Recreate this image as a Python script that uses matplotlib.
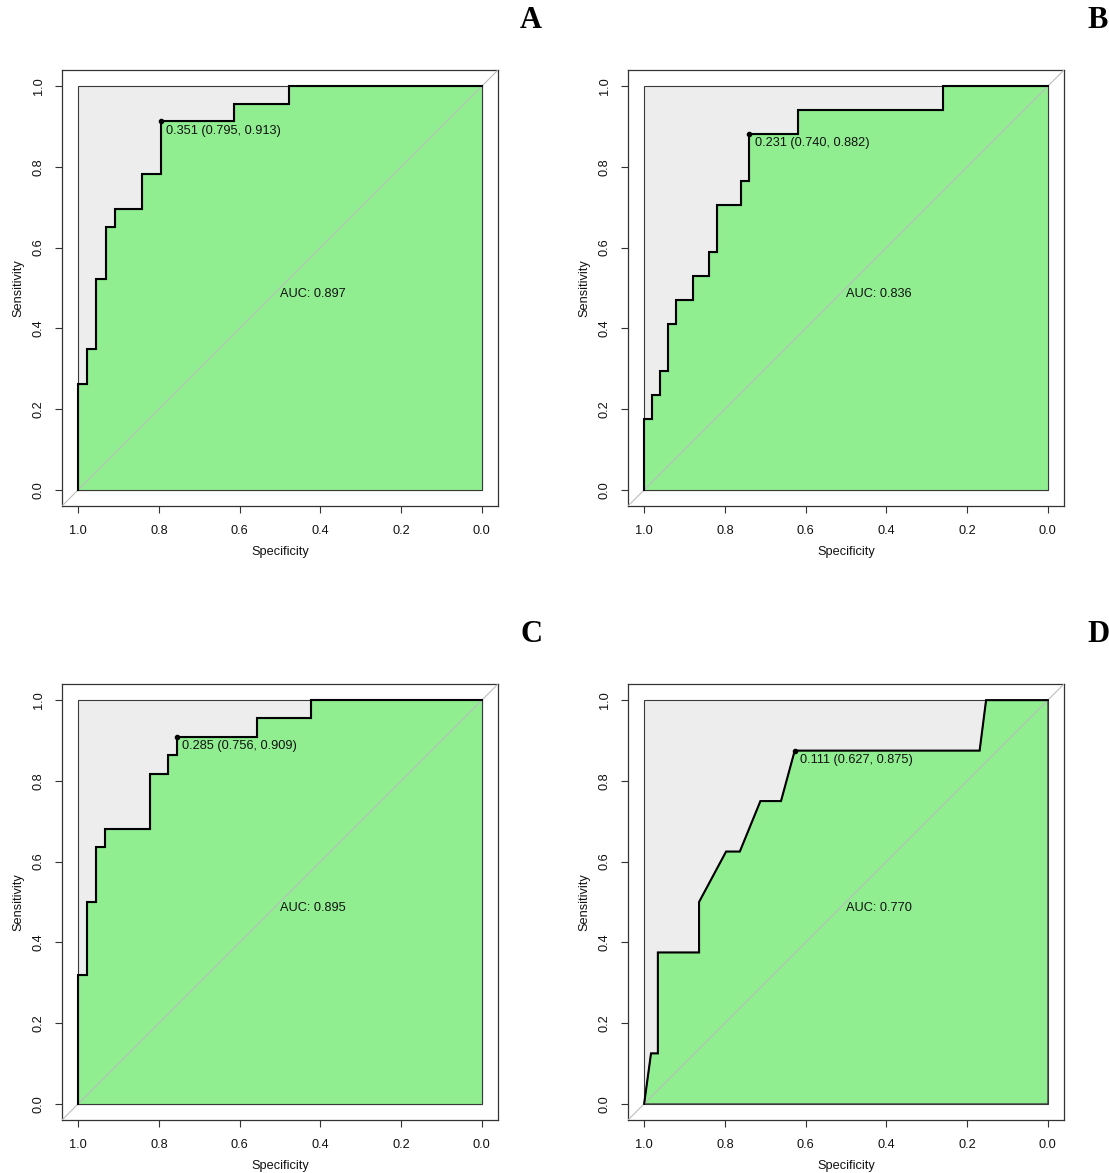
import matplotlib
matplotlib.use("Agg")
import matplotlib.pyplot as plt
from matplotlib.patches import Polygon

plt.rcParams['font.family'] = ['Liberation Sans', 'DejaVu Sans']

# ---------------- data ----------------
panel_letters = ["A", "B", "C", "D"]

spec_A = [1.0, 1.0, 0.977, 0.977, 0.955, 0.955, 0.932, 0.932, 0.909, 0.909, 0.841, 0.841,
          0.795, 0.795, 0.614, 0.614, 0.477, 0.477, 0.0]
sens_A = [0.0, 0.261, 0.261, 0.348, 0.348, 0.522, 0.522, 0.652, 0.652, 0.696, 0.696, 0.783,
          0.783, 0.913, 0.913, 0.957, 0.957, 1.0, 1.0]

spec_B = [1.0, 1.0, 0.98, 0.98, 0.96, 0.96, 0.94, 0.94, 0.92, 0.92, 0.88, 0.88, 0.84, 0.84,
          0.82, 0.82, 0.76, 0.76, 0.74, 0.74, 0.62, 0.62, 0.26, 0.26, 0.0]
sens_B = [0.0, 0.176, 0.176, 0.235, 0.235, 0.294, 0.294, 0.412, 0.412, 0.471, 0.471, 0.529,
          0.529, 0.588, 0.588, 0.706, 0.706, 0.765, 0.765, 0.882, 0.882, 0.941, 0.941, 1.0, 1.0]

spec_C = [1.0, 1.0, 0.978, 0.978, 0.956, 0.956, 0.933, 0.933, 0.822, 0.822, 0.778, 0.778,
          0.756, 0.756, 0.556, 0.556, 0.422, 0.422, 0.0]
sens_C = [0.0, 0.318, 0.318, 0.5, 0.5, 0.636, 0.636, 0.682, 0.682, 0.818, 0.818, 0.864,
          0.864, 0.909, 0.909, 0.955, 0.955, 1.0, 1.0]

spec_D = [1.0, 0.983, 0.966, 0.966, 0.864, 0.864, 0.797, 0.763, 0.712, 0.661, 0.627, 0.169, 0.153, 0.0]
sens_D = [0.0, 0.125, 0.125, 0.375, 0.375, 0.5, 0.625, 0.625, 0.75, 0.75, 0.875, 0.875, 1.0, 1.0]

thres_value = [0.351, 0.231, 0.285, 0.111]
thres_spec = [0.795, 0.740, 0.756, 0.627]
thres_sens = [0.913, 0.882, 0.909, 0.875]
auc_values = [0.897, 0.836, 0.895, 0.770]

tick_vals = [0.0, 0.2, 0.4, 0.6, 0.8, 1.0]
tick_labels = ["0.0", "0.2", "0.4", "0.6", "0.8", "1.0"]

specs = [spec_A, spec_B, spec_C, spec_D]
senss = [sens_A, sens_B, sens_C, sens_D]

# ---------------- layout ----------------
W, H = 1109, 1173
fig = plt.figure(figsize=(W / 100, H / 100), dpi=100)

FS = 9.2

# frames in pixels: (left, top, right, bottom)
frames = [(62, 70, 498, 506), (628, 70, 1064, 506),
          (62, 684, 498, 1120), (628, 684, 1064, 1120)]
letter_pos = [(531, 20), (1098, 20), (531, 635), (1098, 635)]

for i in range(4):
    l, t, r, b = frames[i]
    ax = fig.add_axes([l / W, 1 - b / H, (r - l) / W, (b - t) / H])
    ax.set_xlim(1.04, -0.04)
    ax.set_ylim(-0.04, 1.04)

    # grey max-AUC square
    ax.add_patch(Polygon([(1, 0), (1, 1), (0, 1), (0, 0)], closed=True,
                         facecolor='#EDEDED', edgecolor='#3a3a3a', linewidth=0.8, zorder=1))
    # green AUC polygon
    verts = list(zip(specs[i], senss[i])) + [(0.0, 0.0)]
    ax.add_patch(Polygon(verts, closed=True, facecolor='#90EE90',
                         edgecolor='#3a3a3a', linewidth=0.8, zorder=2))
    # identity line
    ax.plot([1.04, -0.04], [-0.04, 1.04], color='#BDBDBD', linewidth=0.8, zorder=3)
    # ROC curve
    ax.plot(specs[i], senss[i], color='black', linewidth=1.5, zorder=4,
            solid_joinstyle='miter')
    # threshold point and label
    ax.plot([thres_spec[i]], [thres_sens[i]], 'o', color='black', markersize=3, zorder=5)
    ax.annotate(f"{thres_value[i]:.3f} ({thres_spec[i]:.3f}, {thres_sens[i]:.3f})",
                xy=(thres_spec[i], thres_sens[i]), xytext=(4, -2.5),
                textcoords='offset points', ha='left', va='top', fontsize=FS,
                color='#111111', zorder=6)
    # AUC text
    ax.text(0.5, 0.5, f"AUC: {auc_values[i]:.3f}", ha='left', va='top',
            fontsize=FS, color='#111111', zorder=6)

    ax.set_xticks(tick_vals)
    ax.set_xticklabels(tick_labels)
    ax.set_yticks(tick_vals)
    ax.set_yticklabels(tick_labels, rotation=90, va='center')
    ax.tick_params(axis='both', direction='out', length=5, width=0.8,
                   color='#333333', labelsize=FS, labelcolor='#111111')
    ax.tick_params(axis='x', pad=8.5)
    ax.tick_params(axis='y', pad=7.5)
    for s in ax.spines.values():
        s.set_color('#333333')
        s.set_linewidth(0.9)

    ax.text(0.5, -0.1055, "Specificity", transform=ax.transAxes,
            ha='center', va='center', fontsize=FS, color='#111111')
    ax.text(-0.099, 0.5, "Sensitivity", transform=ax.transAxes, rotation=90,
            ha='center', va='center', fontsize=FS, color='#111111')

    lx, ly = letter_pos[i]
    fig.text(lx / W, 1 - ly / H, panel_letters[i], ha='center', va='center',
             fontsize=22, fontweight='bold', family=['Liberation Serif', 'DejaVu Serif'])

fig.savefig("out.png", dpi=100, facecolor='white')
